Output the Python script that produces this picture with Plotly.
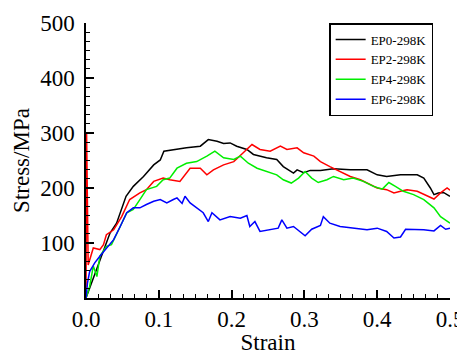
import plotly.graph_objects as go

# EP0-298K
ep0_strain = [0, 0.019, 0.033, 0.042, 0.055, 0.065, 0.079, 0.093, 0.102, 0.107, 0.12, 0.138, 0.157, 0.168,
              0.18, 0.189, 0.198, 0.207, 0.221, 0.23, 0.248, 0.262, 0.271, 0.285, 0.29, 0.299, 0.308, 0.322,
              0.34, 0.363, 0.386, 0.4, 0.413, 0.432, 0.455, 0.464, 0.473, 0.478, 0.484, 0.491, 0.5]
ep0_stress = [0, 70, 118, 136, 185, 203, 221, 242, 251, 267, 270, 273, 276, 288,
              285, 281, 282, 276, 270, 261, 255, 252, 239, 227, 233, 228, 232, 232,
              235, 233, 233, 224, 221, 224, 224, 218, 200, 188, 191, 192, 185]

# EP2-298K
ep2_strain = [0, 0.0008, 0.003, 0.005, 0.01, 0.019, 0.024, 0.028, 0.038, 0.049, 0.06, 0.074, 0.083, 0.093,
              0.106, 0.115, 0.129, 0.143, 0.157, 0.166, 0.175, 0.189, 0.203, 0.216, 0.228, 0.239, 0.253,
              0.267, 0.276, 0.29, 0.299, 0.313, 0.322, 0.335, 0.349, 0.363, 0.377, 0.39, 0.4, 0.413, 0.423,
              0.432, 0.441, 0.455, 0.464, 0.478, 0.487, 0.496, 0.5]
ep2_stress = [0, 300, 60, 70, 91, 88, 97, 115, 124, 148, 179, 191, 197, 212,
              218, 215, 212, 236, 236, 224, 233, 242, 248, 264, 279, 270, 267,
              276, 270, 273, 264, 258, 248, 239, 230, 221, 215, 206, 200, 197, 191,
              194, 197, 194, 188, 180, 191, 200, 196]

# EP4-298K
ep4_strain = [0, 0.005, 0.01, 0.015, 0.019, 0.028, 0.035, 0.04, 0.047, 0.056, 0.065, 0.074, 0.083, 0.097,
              0.106, 0.115, 0.125, 0.138, 0.152, 0.166, 0.177, 0.189, 0.203, 0.212, 0.223, 0.235, 0.248,
              0.262, 0.271, 0.282, 0.292, 0.301, 0.31, 0.319, 0.331, 0.34, 0.354, 0.367, 0.381, 0.395,
              0.407, 0.416, 0.425, 0.436, 0.45, 0.464, 0.478, 0.487, 0.5]
ep4_stress = [0, 21, 58, 39, 76, 94, 97, 112, 130, 155, 161, 179, 197, 203,
              215, 218, 236, 245, 248, 258, 267, 255, 252, 258, 245, 236, 230,
              224, 215, 209, 218, 230, 218, 210, 215, 221, 215, 218, 212, 203,
              198, 210, 203, 194, 188, 179, 164, 148, 136]

# EP6-298K
ep6_strain = [0, 0.002, 0.005, 0.012, 0.019, 0.028, 0.038, 0.047, 0.056, 0.065, 0.074, 0.083, 0.093, 0.102,
              0.111, 0.12, 0.125, 0.132, 0.136, 0.143, 0.152, 0.161, 0.168, 0.173, 0.184, 0.198, 0.212,
              0.221, 0.225, 0.232, 0.239, 0.253, 0.264, 0.269, 0.276, 0.285, 0.294, 0.301, 0.31, 0.322,
              0.326, 0.335, 0.349, 0.367, 0.386, 0.4, 0.413, 0.423, 0.432, 0.439, 0.45, 0.464, 0.478,
              0.487, 0.494, 0.5]
ep6_stress = [0, 27, 48, 64, 76, 91, 106, 130, 155, 164, 164, 170, 176, 179,
              173, 179, 182, 172, 185, 173, 164, 155, 139, 155, 142, 148, 145,
              150, 130, 139, 121, 124, 127, 142, 127, 130, 121, 113, 125, 132,
              148, 136, 130, 127, 124, 127, 121, 109, 111, 125, 125, 124, 122,
              132, 125, 127]

y_tick_vals = [100, 200, 300, 400, 500]
x_tick_vals = [0.0, 0.1, 0.2, 0.3, 0.4, 0.5]
x_tick_text = ["0.0", "0.1", "0.2", "0.3", "0.4", "0.5"]

series = [
    ("EP0-298K", ep0_strain, ep0_stress, "#000000"),
    ("EP2-298K", ep2_strain, ep2_stress, "#ff0000"),
    ("EP4-298K", ep4_strain, ep4_stress, "#00ee00"),
    ("EP6-298K", ep6_strain, ep6_stress, "#0000ff"),
]

fig = go.Figure()
for name, xs, ys, col in series:
    fig.add_trace(go.Scatter(x=xs, y=ys, mode="lines", name=name,
                             line=dict(color=col, width=1.5)))

font = "Liberation Serif"
# page body has an 8px margin, so the figure is 457x347 placed at (8, 8)
fig.update_layout(
    width=457, height=347,
    margin=dict(l=78, r=15, t=15, b=57, autoexpand=False),
    paper_bgcolor="white", plot_bgcolor="white",
    font=dict(family=font, size=23, color="black"),
    showlegend=True,
    legend=dict(x=0.668, y=1.0, xanchor="left", yanchor="top",
                bordercolor="black", borderwidth=1.5, bgcolor="white",
                font=dict(family=font, size=13, color="black"),
                itemwidth=30, tracegroupgap=0),
)
fig.update_xaxes(
    range=[0, 0.5], showline=True, linecolor="black", linewidth=1.5,
    tickmode="array", tickvals=x_tick_vals, ticktext=x_tick_text,
    ticks="inside", ticklen=8, tickwidth=1.5, tickcolor="black",
    minor=dict(dtick=0.1 / 6, tick0=0, ticks="inside", ticklen=4, tickwidth=1, tickcolor="black", showgrid=False),
    showgrid=False, zeroline=False, mirror=False, automargin=False,
    title=dict(text="Strain", font=dict(family=font, size=23), standoff=2),
    tickfont=dict(family=font, size=23),
)
fig.update_yaxes(
    range=[0, 500], showline=True, linecolor="black", linewidth=1.5,
    tickmode="array", tickvals=y_tick_vals,
    ticks="inside", ticklen=8, tickwidth=1.5, tickcolor="black",
    minor=dict(dtick=100 / 6, tick0=0, ticks="inside", ticklen=4, tickwidth=1, tickcolor="black", showgrid=False),
    showgrid=False, zeroline=False, mirror=False, automargin=False,
    ticklabelstandoff=5,
    title=dict(text="Stress/MPa", font=dict(family=font, size=23), standoff=4),
    tickfont=dict(family=font, size=23),
)

fig.write_html("out.html")
